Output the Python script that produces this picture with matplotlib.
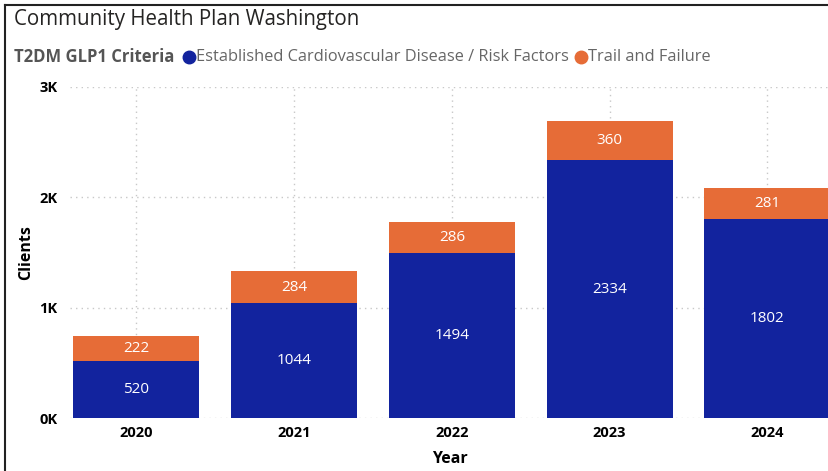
import matplotlib
matplotlib.use("Agg")
import matplotlib.pyplot as plt
from matplotlib.lines import Line2D
import numpy as np

plt.rcParams['font.family'] = ['Open Sans', 'DejaVu Sans']

years = ["2020", "2021", "2022", "2023", "2024"]
established = [520, 1044, 1494, 2334, 1802]
trail = [222, 284, 286, 360, 281]
yticks = [0, 1000, 2000, 3000]
ytick_labels = ["0K", "1K", "2K", "3K"]
series_names = ["Established Cardiovascular Disease / Risk Factors", "Trail and Failure"]

blue = "#12239E"
orange = "#E66C37"

fig = plt.figure(figsize=(8.29, 4.71), dpi=100)
ax = fig.add_axes([0.0844, 0.1125, 1 - 0.0844, 0.8153 - 0.1125])

x = np.arange(len(years))
w = 0.80
ax.bar(x, established, width=w, color=blue, zorder=3)
ax.bar(x, trail, width=w, bottom=established, color=orange, zorder=3)

for xi, e, t in zip(x, established, trail):
    ax.text(xi, e / 2, str(e), ha='center', va='center', color='white', fontsize=11, zorder=4)
    ax.text(xi, e + t / 2, str(t), ha='center', va='center', color='white', fontsize=11, zorder=4)

ax.set_xlim(-0.42, 4.39)
ax.set_ylim(0, 3000)
ax.set_yticks(yticks)
ax.set_yticklabels(ytick_labels, fontweight='bold', fontsize=10.5)
ax.set_xticks(x)
ax.set_xticklabels(years, fontweight='bold', fontsize=10.5)
ax.tick_params(length=0, pad=6)
ax.tick_params(axis='y', pad=9)
for s in ax.spines.values():
    s.set_visible(False)
ax.grid(True, which='major', axis='both', linestyle=(0, (1, 3)), color='#C8C8C8', linewidth=1, zorder=0)
ax.set_xlabel("Year", fontweight='bold', fontsize=11.5, labelpad=8)
ax.set_ylabel("Clients", fontweight='bold', fontsize=11.5, labelpad=4)

fig.text(14 / 829, 1 - 20 / 471, "Community Health Plan Washington", fontsize=14.8, color='#252423', va='center', ha='left')

# Legend row
ly = 1 - 57 / 471
t0 = fig.text(14 / 829, ly, "T2DM GLP1 Criteria", fontsize=12, fontweight='bold', color='#555555', va='center', ha='left')
fig.canvas.draw()
r = fig.canvas.get_renderer()
xpos = t0.get_window_extent(r).x1 + 15
for name, col in zip(series_names, [blue, orange]):
    fig.add_artist(Line2D([xpos / 829], [ly], marker='o', markersize=9, color=col, linestyle='none', transform=fig.transFigure))
    tt = fig.text((xpos + 7) / 829, ly, name, fontsize=11.8, color='#666666', va='center', ha='left')
    fig.canvas.draw()
    xpos = tt.get_window_extent(r).x1 + 12

# Frame lines (top and left)
fig.add_artist(Line2D([5 / 829, 1.0], [1 - 5 / 471, 1 - 5 / 471], color='#222222', linewidth=1.5, transform=fig.transFigure))
fig.add_artist(Line2D([5 / 829, 5 / 829], [0, 1 - 5 / 471], color='#222222', linewidth=1.5, transform=fig.transFigure))

fig.savefig("out.png", dpi=100)
